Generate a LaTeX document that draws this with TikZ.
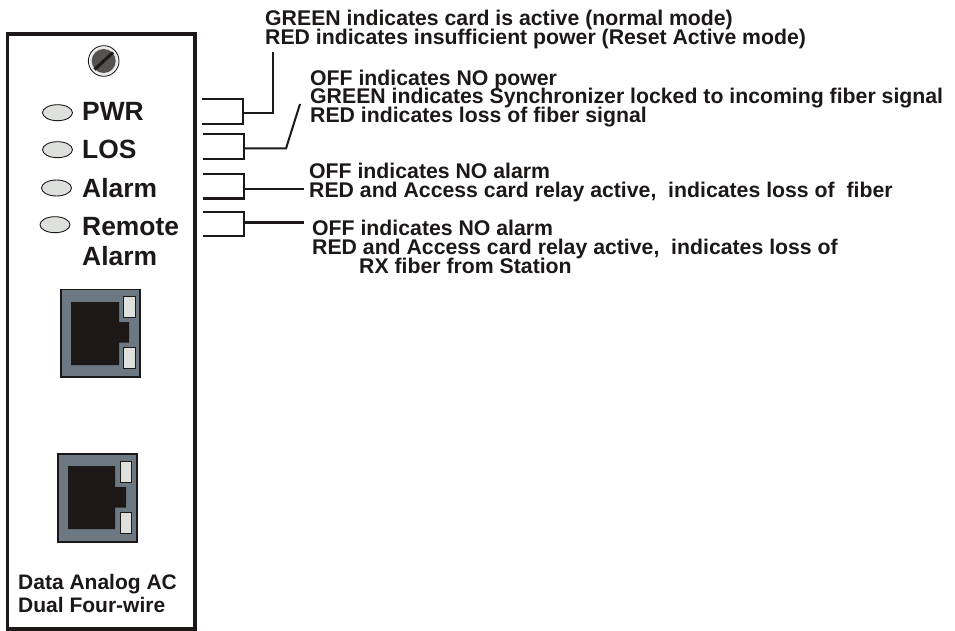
\documentclass[tikz,border=0pt]{standalone}
\usepackage{fontspec}
\setmainfont{Liberation Sans}[BoldFont={Liberation Sans Bold}]
\definecolor{portgrey}{RGB}{108,120,130}
\definecolor{ledgrey}{RGB}{222,224,222}
\definecolor{ink}{RGB}{28,24,24}
\tikzset{
  note/.style={anchor=base west,inner sep=0pt,align=left,font=\fontsize{21.25}{18.7}\bfseries\selectfont,text=ink},
  panel/.style={anchor=base west,inner sep=0pt,align=left,font=\fontsize{26.4}{30}\bfseries\selectfont,text=ink},
  caption/.style={anchor=base west,inner sep=0pt,align=left,font=\fontsize{21}{23}\bfseries\selectfont,text=ink},
  led/.style={ellipse,draw=ink,line width=0.9pt,fill=ledgrey,minimum width=30pt,minimum height=16pt,inner sep=0pt},
  wire/.style={draw=ink,line width=2pt,line cap=butt,line join=miter},
  wirethick/.style={draw=ink,line width=2.8pt},
  portbody/.style={draw=ink,line width=1.2pt,fill=portgrey},
  porthole/.style={fill=ink},
  portled/.style={draw=ink,line width=0.8pt,fill=ledgrey},
}
\usetikzlibrary{shapes.geometric}
\AtBeginDocument{\lineskiplimit=-100pt\relax}
\begin{document}
\begin{tikzpicture}[x=1pt,y=-1pt]
\useasboundingbox (0,0) rectangle (955,631);
% card
\draw[draw=ink,line width=3.4pt,fill=white] (7.5,34) rectangle (195,629);
% screw
\fill[white,draw=ink,line width=0.9pt] (103.7,61) circle (15.3pt);
\fill[ink!10] (103.7,61) circle (14pt);
\fill[ink!75] (103.7,61) circle (12pt);
\draw[ink,line width=3pt] (94.5,69.5) -- (113,52.5);
% LEDs and labels
\node[led] (ledpwr) at (57.5,112.7) {};
\node[led] (ledlos) at (57.5,149.7) {};
\node[led] (ledalarm) at (56.5,188) {};
\node[led] (ledremote) at (55,224.7) {};
\node[panel] (lblpwr) at (82,121) {PWR};
\node[panel] (lbllos) at (82,158.5) {LOS};
\node[panel] (lblalarm) at (82,197.5) {Alarm};
\node[panel] (lblremote) at (82,265.5) {Remote\\Alarm};
% port 1
\draw[portbody] (61,289.5) rectangle (140,377);
\fill[porthole] (71,302) -- (119,302) -- (119,322) -- (129,322) -- (129,342.5) -- (119,342.5) -- (119,365) -- (71,365) -- cycle;
\draw[portled] (123,296.5) rectangle (135,317.5);
\draw[portled] (123,347.5) rectangle (135,368.5);
% port 2
\draw[portbody] (58,454) rectangle (137,542);
\fill[porthole] (68,466) -- (115,466) -- (115,487) -- (126,487) -- (126,507.5) -- (115,507.5) -- (115,529) -- (68,529) -- cycle;
\draw[portled] (120,461) rectangle (131,482);
\draw[portled] (120,512) rectangle (131,533);
% caption
\node[caption] (cap) at (18,612.5) {Data Analog AC\\Dual Four-wire};
% notes
\node[note] (n1) at (265,44.5) {GREEN indicates card is active (normal mode)\\RED indicates insufficient power (Reset Active mode)};
\node[note] (n2) at (310,122.5) {OFF indicates NO power\\GREEN indicates Synchronizer locked to incoming fiber signal\\RED indicates loss of fiber signal};
\node[note] (n3) at (309,197) {OFF indicates NO alarm\\RED and Access card relay active,\ \ indicates loss of\ \ fiber};
\node[note] (n4) at (312,273) {OFF indicates NO alarm\\RED and Access card relay active,\ \ indicates loss of\\\hspace*{47pt}RX fiber from Station};
% brackets
\coordinate (a1) at (202,99.5); \coordinate (a2) at (243,99.5); \coordinate (a3) at (243,123.7); \coordinate (a4) at (202,123.7);
\coordinate (a5) at (243,112.7); \coordinate (a6) at (273,112.7); \coordinate (a7) at (273,52);
\draw[wire] (a1) -- (a2) -- (a3) -- (a4);
\draw[wire] (a5) -- (a6) -- (a7);
\coordinate (b1) at (203,134.5); \coordinate (b2) at (244,134.5); \coordinate (b3) at (244,159.5); \coordinate (b4) at (203,159.5);
\coordinate (b5) at (244,148.5); \coordinate (b6) at (286,148.5); \coordinate (b7) at (300,104);
\draw[wire] (b1) -- (b2) -- (b3) -- (b4);
\draw[wire] (b5) -- (b6) -- (b7);
\coordinate (c1) at (203,174.5); \coordinate (c2) at (244,174.5); \coordinate (c3) at (244,198.5); \coordinate (c4) at (203,198.5);
\coordinate (c5) at (244,189); \coordinate (c6) at (304,189);
\draw[wire] (c1) -- (c2) -- (c3) -- (c4);
\draw[wirethick] (c5) -- (c6);
\coordinate (d1) at (203,212); \coordinate (d2) at (244,212); \coordinate (d3) at (244,236); \coordinate (d4) at (203,236);
\coordinate (d5) at (244,222.5); \coordinate (d6) at (304,222.5);
\draw[wire] (d1) -- (d2) -- (d3) -- (d4);
\draw[wirethick] (d5) -- (d6);
\end{tikzpicture}
\end{document}
